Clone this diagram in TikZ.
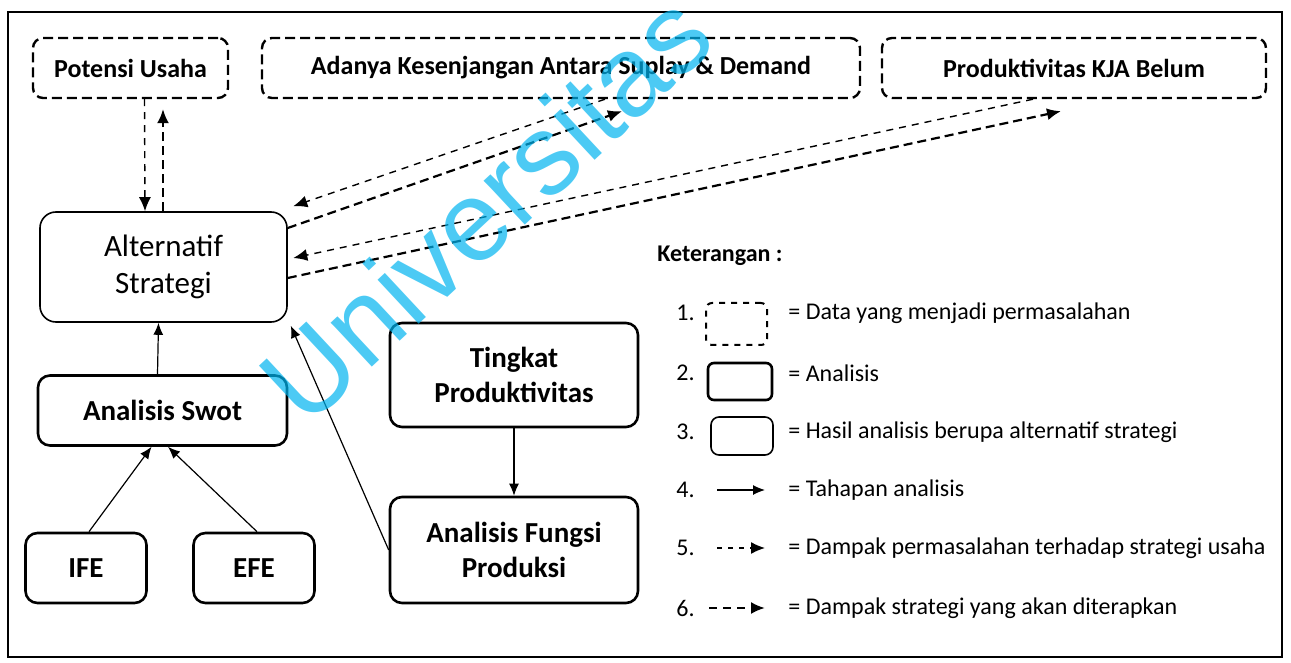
\documentclass[tikz,border=0pt]{standalone}
\usepackage{fontspec}
\setmainfont{Carlito}
\newfontfamily\wmfont{Liberation Sans}
\usetikzlibrary{arrows.meta}
\definecolor{wmcyan}{RGB}{0,180,240}

\begin{document}
\begin{tikzpicture}[x=0.5pt, y=-0.5pt,
		DataBox/.style = {draw, line width=1.2pt, dash pattern=on 5pt off 2.5pt, rounded corners=5pt, inner sep=0pt, font=\bfseries\fontsize{13}{15}\selectfont},
		AnalisisBox/.style = {draw, line width=1.3pt, rounded corners=6pt, inner sep=0pt, align=center, font=\bfseries\fontsize{14.5}{17.5}\selectfont},
		HasilBox/.style = {draw, line width=0.8pt, rounded corners=8pt, inner sep=0pt, align=center, font=\fontsize{15.5}{18.5}\selectfont},
		Tahap/.style = {-{Latex[length=6pt,width=5pt]}, line width=0.6pt},
		DampakMasalah/.style = {-{Latex[length=7pt,width=6pt]}, line width=0.7pt, dash pattern=on 3.5pt off 3pt},
		DampakStrategi/.style = {-{Latex[length=7pt,width=6pt]}, line width=1.1pt, dash pattern=on 4.5pt off 2.5pt},
		Ket/.style = {anchor=west, inner sep=0pt, font=\fontsize{12}{14}\selectfont}]
	\useasboundingbox (0,0) rectangle (1291,663);
	\draw[line width=1pt] (8,12) rectangle (1282,657);
	% data permasalahan
	\node[DataBox, minimum width=97.5pt, minimum height=30pt] (PU) at (130.5,68) {Potensi Usaha};
	\node[DataBox, minimum width=299pt, minimum height=30pt] (AK) at (561,68) {Adanya Kesenjangan Antara Suplay \& Demand};
	\node[DataBox, minimum width=192pt, minimum height=30pt] (PK) at (1074,68) {Produktivitas KJA Belum};
	% analisis
	\node[HasilBox, minimum width=123.5pt, minimum height=55pt] (AS) at (163.5,267) {Alternatif\\Strategi};
	\node[AnalisisBox, minimum width=124.5pt, minimum height=35pt] (SW) at (162.5,410.5) {Analisis Swot};
	\node[AnalisisBox, minimum width=60.5pt, minimum height=35pt] (IFE) at (86,568) {IFE};
	\node[AnalisisBox, minimum width=60.5pt, minimum height=35pt] (EFE) at (254,568) {EFE};
	\node[AnalisisBox, minimum width=124pt, minimum height=52pt] (TP) at (514,375) {Tingkat\\Produktivitas};
	\node[AnalisisBox, minimum width=124pt, minimum height=53pt] (FP) at (514,550) {Analisis Fungsi\\Produksi};
	% tahapan
	\draw[Tahap] ([xshift=-2.5pt]SW.north) -- ([xshift=-2.5pt]AS.south);
	\draw[Tahap] ([xshift=1.5pt]IFE.north) -- ([xshift=-5.5pt]SW.south);
	\draw[Tahap] ([xshift=1.5pt]EFE.north) -- ([xshift=2.75pt]SW.south);
	\draw[Tahap] (TP.south) -- (FP.north);
	\draw[Tahap] (FP.west) -- ([xshift=1.5pt,yshift=-1.5pt]AS.south east);
	% dampak
	\draw[DampakMasalah] ([xshift=7pt]PU.south) -- ([xshift=-9.25pt]AS.north);
	\draw[DampakStrategi, shorten >=5pt] ([xshift=-0.25pt]AS.north) -- ([xshift=16.25pt]PU.south);
	\draw[DampakMasalah] ([xshift=22pt]AK.south) -- ([xshift=2.75pt,yshift=2.5pt]AS.north east);
	\draw[DampakStrategi] ([yshift=19.5pt]AS.east) -- ([xshift=30.5pt,yshift=-6pt]AK.south);
	\draw[DampakMasalah] ([xshift=-20.5pt]PK.south) -- ([xshift=2.75pt,yshift=4.5pt]AS.east);
	\draw[DampakStrategi] ([yshift=-5.5pt]AS.east) -- ([xshift=-6.5pt,yshift=-6pt]PK.south);
	% keterangan
	\node[Ket, font=\bfseries\fontsize{12}{14}\selectfont] (KT) at (657,256) {Keterangan :};
	\foreach \n/\y in {1/313,2/373,3/432,4/490,5/548,6/608}
		\node[Ket] (N\n) at (676,\y) {\n.};
	\node[DataBox, minimum width=30.5pt, minimum height=21pt, rounded corners=3pt, line width=1pt, dash pattern=on 3pt off 3pt] (L1) at (736.5,324) {};
	\node[AnalisisBox, minimum width=32pt, minimum height=18.5pt, rounded corners=3pt] (L2) at (740,381.5) {};
	\node[HasilBox, minimum width=31pt, minimum height=19pt, rounded corners=4pt] (L3) at (742,436) {};
	\coordinate (L4a) at (717,490);
	\coordinate (L4b) at (765,490);
	\coordinate (L5a) at (717,548);
	\coordinate (L5b) at (765,548);
	\coordinate (L6a) at (709,608);
	\coordinate (L6b) at (765,608);
	\draw[Tahap] (L4a) -- (L4b);
	\draw[DampakMasalah, dash pattern=on 2.5pt off 3pt] (L5a) -- (L5b);
	\draw[DampakStrategi, dash pattern=on 4pt off 3pt] (L6a) -- (L6b);
	\node[Ket] (T1) at (788,313) {= Data yang menjadi permasalahan};
	\node[Ket] (T2) at (788,373) {= Analisis};
	\node[Ket] (T3) at (788,432) {= Hasil analisis berupa alternatif strategi};
	\node[Ket] (T4) at (788,490) {= Tahapan analisis};
	\node[Ket] (T5) at (788,548) {= Dampak permasalahan terhadap strategi usaha};
	\node[Ket] (T6) at (788,608) {= Dampak strategi yang akan diterapkan};
	% watermark
	\node[rotate=43, text=wmcyan, text opacity=0.7, inner sep=0pt, font=\wmfont\fontsize{57}{57}\selectfont] (WM) at (485,207) {Universitas};
\end{tikzpicture}
\end{document}
